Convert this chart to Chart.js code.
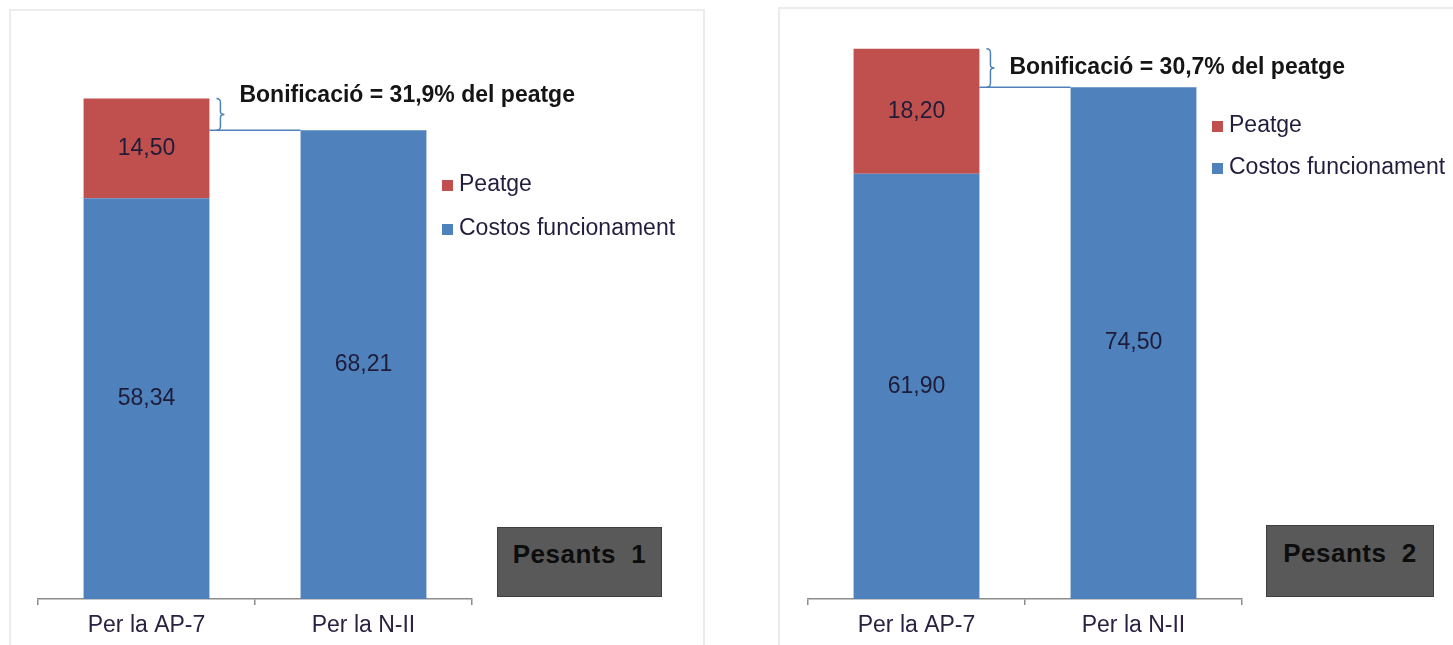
<!DOCTYPE html>
<html>
<head>
<meta charset="utf-8">
<script src="https://cdn.jsdelivr.net/npm/chart.js@4.4.0/dist/chart.umd.min.js"></script>
<style>
  body{margin:0;background:#fff;width:1453px;height:645px;overflow:hidden;position:relative;font-family:"Liberation Sans",Arial,sans-serif;}
  .panel{position:absolute;border:2px solid #ececec;box-sizing:border-box;}
  .panel canvas{position:absolute;left:0;top:0;}
  .tag{position:absolute;background:#595959;border:1px solid #3f3f3f;box-sizing:border-box;color:#0d0d0d;font-weight:bold;font-size:26px;letter-spacing:0.5px;text-align:center;}
</style>
</head>
<body>
<div class="panel" style="left:9px;top:9px;width:696px;height:650px;"><canvas id="c1"></canvas></div>
<div class="panel" style="left:778px;top:7px;width:690px;height:650px;"><canvas id="c2"></canvas></div>
<div class="tag" style="left:497px;top:527px;width:165px;height:70px;line-height:52px;">Pesants&nbsp; 1</div>
<div class="tag" style="left:1266px;top:525px;width:168px;height:72px;line-height:54px;">Pesants&nbsp; 2</div>
<script>
// dades
const categories = ['Per la AP-7', 'Per la N-II'];
const seriesNames = ['Costos funcionament', 'Peatge'];
const costos1 = [58.34, 68.21];
const peatge1 = [14.50, null];
const costos2 = [61.90, 74.50];
const peatge2 = [18.20, null];
const bonus1 = 'Bonificació = 31,9% del peatge';
const bonus2 = 'Bonificació = 30,7% del peatge';
const yMax = 85;

const BLUE = '#4f81bd', RED = '#c0504d';
const fmt = v => v.toFixed(2).replace('.', ',');

const valueLabels = {
  id: 'valueLabels',
  afterDatasetsDraw(chart){
    const ctx = chart.ctx;
    ctx.save();
    ctx.font = '23px "Liberation Sans", Arial';
    ctx.fillStyle = '#1e1c38';
    ctx.textAlign = 'center';
    ctx.textBaseline = 'middle';
    chart.data.datasets.forEach((ds, i) => {
      chart.getDatasetMeta(i).data.forEach((el, j) => {
        const v = ds.data[j];
        if (v == null) return;
        ctx.fillText(fmt(v), el.x, (el.y + el.base) / 2);
      });
    });
    ctx.restore();
  }
};

// clau + línia + text de bonificació
const bonusNote = {
  id: 'bonusNote',
  afterDraw(chart, args, o){
    const ctx = chart.ctx;
    const a = chart.getDatasetMeta(1).data[0];
    const b = chart.getDatasetMeta(0).data[1];
    const x0 = a.x + a.width / 2, x1 = b.x - b.width / 2;
    const yT = a.y, yB = b.y, mid = (yT + yB) / 2;
    const bx = x0 + 11;
    ctx.save();
    ctx.strokeStyle = BLUE;
    ctx.lineWidth = 1.5;
    ctx.beginPath();
    ctx.moveTo(x0, yB); ctx.lineTo(x1, yB);
    ctx.stroke();
    ctx.beginPath();
    ctx.moveTo(bx - 4, yT);
    ctx.quadraticCurveTo(bx, yT, bx, yT + 4);
    ctx.lineTo(bx, mid - 3);
    ctx.quadraticCurveTo(bx, mid, bx + 4, mid);
    ctx.quadraticCurveTo(bx, mid, bx, mid + 3);
    ctx.lineTo(bx, yB - 4);
    ctx.quadraticCurveTo(bx, yB, bx - 4, yB);
    ctx.stroke();
    ctx.font = 'bold 23px "Liberation Sans", Arial';
    ctx.fillStyle = '#151515';
    ctx.textBaseline = 'middle';
    ctx.fillText(o.text, x0 + 30, o.top ? yT - 3 : mid);
    ctx.restore();
  }
};

const sideLegend = {
  id: 'sideLegend',
  afterDraw(chart, args, o){
    const ctx = chart.ctx;
    const x = chart.chartArea.right - 30;
    ctx.save();
    ctx.font = '23px "Liberation Sans", Arial';
    ctx.textBaseline = 'middle';
    const list = chart.data.datasets.slice().reverse();
    list.forEach((ds, i) => {
      const y = o.y + i * o.gap;
      ctx.fillStyle = ds.backgroundColor;
      ctx.fillRect(x, y - 5, 11, 11);
      ctx.fillStyle = '#221d3d';
      ctx.fillText(ds.label, x + 17, y);
    });
    ctx.restore();
  }
};

function makeChart(id, w, h, costos, peatge, pad, bonus, legend){
  const cv = document.getElementById(id);
  cv.width = w; cv.height = h;
  cv.style.width = w + 'px'; cv.style.height = h + 'px';
  return new Chart(cv, {
    type: 'bar',
    data: {
      labels: categories,
      datasets: [
        {label: seriesNames[0], data: costos, backgroundColor: BLUE},
        {label: seriesNames[1], data: peatge, backgroundColor: RED}
      ]
    },
    options: {
      responsive: false,
      animation: false,
      layout: {padding: pad},
      datasets: {bar: {categoryPercentage: 1, barPercentage: 0.58}},
      scales: {
        x: {
          stacked: true,
          offset: true,
          border: {display: true, color: '#8c8c8c', width: 1.5},
          grid: {display: true, offset: true, drawOnChartArea: false, tickLength: 6, color: '#8c8c8c', lineWidth: 1.5},
          ticks: {color: '#2b2140', padding: 7, font: {family: '"Liberation Sans", Arial', size: 23}},
          afterFit: s => { s.height = 48; }
        },
        y: {stacked: true, display: false, min: 0, max: yMax}
      },
      plugins: {
        legend: {display: false},
        tooltip: {enabled: false},
        bonusNote: bonus,
        sideLegend: legend
      }
    },
    plugins: [valueLabels, bonusNote, sideLegend]
  });
}

makeChart('c1', 694, 636, costos1, peatge1, {left: 27, right: 233, top: 4, bottom: 0},
  {text: bonus1, top: true}, {y: 174, gap: 44});
makeChart('c2', 675, 638, costos2, peatge2, {left: 28, right: 213, top: 6, bottom: 0},
  {text: bonus2, top: false}, {y: 117, gap: 42});
</script>
</body>
</html>
